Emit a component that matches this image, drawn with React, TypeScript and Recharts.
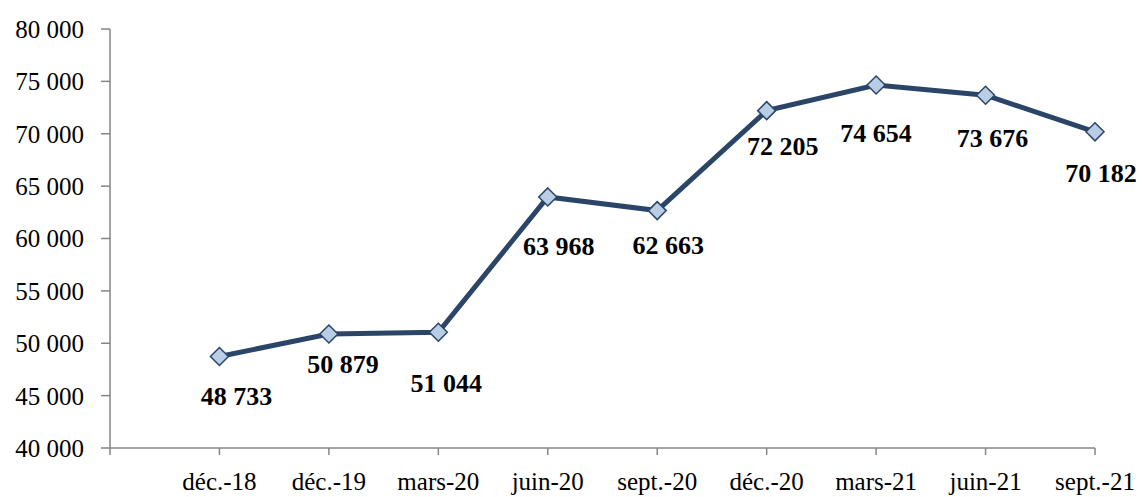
import React from "react";
import { LineChart, Line, XAxis, YAxis, LabelList } from "recharts";

const categories = ["", "déc.-18", "déc.-19", "mars-20", "juin-20", "sept.-20", "déc.-20", "mars-21", "juin-21", "sept.-21"];
const values: (number | null)[] = [null, 48733, 50879, 51044, 63968, 62663, 72205, 74654, 73676, 70182];
const yTicks = [40000, 45000, 50000, 55000, 60000, 65000, 70000, 75000, 80000];

// label nudges (layout only): offset of label centre from its point
const labelDx = [0, 17, 14, 8, 11, 11, 16, 0, 7, 6];
const labelDy = [0, 40, 30, 51, 50, 35, 36, 49, 43, 42];

const data = categories.map((c, i) => ({ cat: c, v: values[i] }));

const fmt = (v: number) => {
  const th = Math.floor(v / 1000);
  const rest = String(Math.round(v % 1000)).padStart(3, "0");
  return `${th} ${rest}`;
};

const FONT = "'Liberation Serif', 'Times New Roman', serif";
const LINE = "#2a4567";
const FILL = "#b9cde5";
const AXIS = "#868686";

const Diamond = (props: any) => {
  const { cx, cy, index } = props;
  if (cx == null || cy == null || values[index] == null) return <g key={`d${index}`} />;
  const r = 9;
  return (
    <polygon
      key={`d${index}`}
      points={`${cx},${cy - r} ${cx + r},${cy} ${cx},${cy + r} ${cx - r},${cy}`}
      fill={FILL}
      stroke={LINE}
      strokeWidth={1.5}
    />
  );
};

const ValueLabel = (props: any) => {
  const { x, y, value, index } = props;
  if (value == null || x == null || y == null) return null;
  return (
    <text
      x={x + labelDx[index]}
      y={y + labelDy[index]}
      textAnchor="middle"
      dominantBaseline="central"
      fontFamily={FONT}
      fontWeight="bold"
      fontSize={26}
      fill="#000"
    >
      {fmt(value)}
    </text>
  );
};

export default function App() {
  return (
    <div style={{ position: "absolute", left: 0, top: 0, background: "#fff" }}>
      <LineChart
        width={1142}
        height={497}
        data={data}
        margin={{ top: 29, right: 47, bottom: 0, left: 0 }}
      >
        <XAxis
          dataKey="cat"
          interval={0}
          height={49}
          axisLine={{ stroke: AXIS, strokeWidth: 1.5 }}
          tickLine={{ stroke: AXIS, strokeWidth: 1.5 }}
          tickSize={7}
          tickMargin={17}
          tick={{ fill: "#000", fontFamily: FONT, fontSize: 25 }}
        />
        <YAxis
          domain={[40000, 80000]}
          ticks={yTicks}
          width={110}
          interval={0}
          axisLine={{ stroke: AXIS, strokeWidth: 1.5 }}
          tickLine={{ stroke: AXIS, strokeWidth: 1.5 }}
          tickSize={9}
          tickMargin={17}
          tickFormatter={fmt}
          tick={{ fill: "#000", fontFamily: FONT, fontSize: 25 }}
        />
        <Line
          dataKey="v"
          stroke={LINE}
          strokeWidth={5}
          dot={Diamond}
          activeDot={false}
          isAnimationActive={false}
        >
          <LabelList dataKey="v" content={ValueLabel} />
        </Line>
      </LineChart>
    </div>
  );
}
